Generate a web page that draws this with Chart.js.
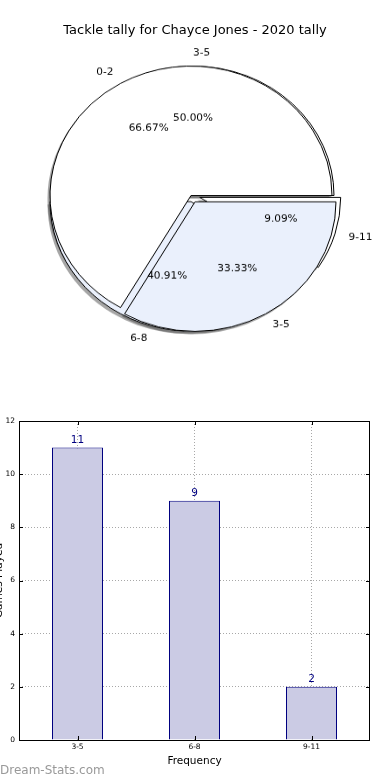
<!DOCTYPE html>
<html>
<head>
<meta charset="utf-8">
<title>Tackle tally for Chayce Jones - 2020 tally</title>
<script src="https://cdn.jsdelivr.net/npm/chart.js@4.4.0/dist/chart.umd.min.js"></script>
<style>
  body { margin: 0; background: #fff; font-family: 'DejaVu Sans', sans-serif; }
  #page { position: relative; width: 390px; height: 780px; overflow: hidden; background: #fff; }
  #title { position: absolute; top: 22px; left: 0; width: 390px; line-height: 16px; text-align: center; font-size: 13px; color: #000; }
  #pie-wrap { position: absolute; top: 0; left: 0; width: 390px; height: 391px; transform: scaleY(0.918); transform-origin: 191px 195.5px; }
  #pie-wrap canvas { position: absolute; top: 0; left: 0; }
  #bar-wrap { position: absolute; top: 410px; left: 0; width: 390px; height: 370px; }
  #watermark { position: absolute; left: 0; top: 762px; font-size: 12px; line-height: 16px; color: #999; }
</style>
</head>
<body>
<div id="page">
  <div id="pie-wrap">
    <canvas id="pie-back" width="390" height="391"></canvas>
    <canvas id="pie-front" width="390" height="391"></canvas>
  </div>
  <div id="title">Tackle tally for Chayce Jones - 2020 tally</div>
  <div id="bar-wrap">
    <canvas id="bar" width="390" height="370"></canvas>
  </div>
  <div id="watermark">Dream-Stats.com</div>
</div>
<script>
// Data
const pieALabels = ['0-2', '3-5'];
const pieAValues = [66.67, 33.33];
const pieBLabels = ['3-5', '6-8', '9-11'];
const pieBValues = [11, 9, 2];
const barLabels = ['3-5', '6-8', '9-11'];
const barValues = [11, 9, 2];
const yTicks = [0, 2, 4, 6, 8, 10, 12];

// Styles
const pieAColors = ['#ffffff', '#eaf0fc'];
const pieAExplode = [0, 8];
const pieBColors = ['#ffffff', '#eaf0fc', '#ffffff'];
const pieBExplode = [0, 7, 7];
const FONT = '"DejaVu Sans", sans-serif';

Chart.defaults.font.family = FONT;
Chart.defaults.color = '#000';

let backPie = null;

function midAngle(arc) {
  return (arc.startAngle + arc.endAngle) / 2;
}

// Push exploded slices out from the centre (keeps their radius)
const explodePlugin = {
  id: 'explode',
  afterUpdate(chart) {
    const ds = chart.data.datasets[0];
    chart.getDatasetMeta(0).data.forEach((arc, i) => {
      const mid = midAngle(arc);
      arc.x += Math.cos(mid) * ds.explode[i];
      arc.y += Math.sin(mid) * ds.explode[i];
    });
  }
};

// Percent and category labels like matplotlib autopct, for both pies, on top
function drawPieLabels(ctx, chart) {
  const meta = chart.getDatasetMeta(0);
  const values = chart.data.datasets[0].data;
  const total = values.reduce((a, b) => a + b, 0);
  meta.data.forEach((arc, i) => {
    const mid = midAngle(arc);
    const r = arc.outerRadius;
    const cos = Math.cos(mid), sin = Math.sin(mid);
    ctx.textAlign = 'center';
    ctx.fillText((values[i] / total * 100).toFixed(2) + '%', arc.x + cos * r * 0.6, arc.y + sin * r * 0.6);
    ctx.textAlign = cos >= -1e-6 ? 'left' : 'right';
    ctx.fillText(chart.data.labels[i], arc.x + cos * r * 1.1, arc.y + sin * r * 1.1);
  });
}

const pieLabelPlugin = {
  id: 'pieLabels',
  afterDatasetsDraw(chart) {
    const ctx = chart.ctx;
    ctx.save();
    ctx.font = '10.5px ' + FONT;
    ctx.fillStyle = '#000';
    ctx.textBaseline = 'middle';
    if (backPie) drawPieLabels(ctx, backPie);
    drawPieLabels(ctx, chart);
    ctx.restore();
  }
};

function makePie(id, labels, values, colors, explode, padRight, plugins) {
  // reverse so slices run counter-clockwise from 3 o'clock
  return new Chart(document.getElementById(id), {
    type: 'pie',
    data: {
      labels: labels.slice().reverse(),
      datasets: [{
        data: values.slice().reverse(),
        backgroundColor: colors.slice().reverse(),
        explode: explode.slice().reverse(),
        borderColor: '#000',
        borderWidth: 1,
        hoverOffset: 0
      }]
    },
    options: {
      responsive: false,
      animation: false,
      events: [],
      rotation: 90,
      radius: 141,
      layout: { padding: { right: padRight } },
      plugins: { legend: { display: false }, tooltip: { enabled: false } }
    },
    plugins: [explodePlugin].concat(plugins)
  });
}

const frontPie = makePie('pie-front', pieALabels, pieAValues, pieAColors, pieAExplode, 8, [pieLabelPlugin]);

// Shadows of both pies sit under every wedge
const shadowPlugin = {
  id: 'pieShadow',
  beforeDatasetsDraw(chart) {
    const ctx = chart.ctx;
    const arcs = frontPie.getDatasetMeta(0).data.concat(chart.getDatasetMeta(0).data);
    ctx.save();
    ctx.fillStyle = 'rgba(77,77,77,0.5)';
    arcs.forEach(arc => {
      ctx.beginPath();
      ctx.moveTo(arc.x - 2.5, arc.y + 3);
      ctx.arc(arc.x - 2.5, arc.y + 3, arc.outerRadius, arc.startAngle, arc.endAngle);
      ctx.closePath();
      ctx.fill();
    });
    ctx.restore();
  }
};

backPie = makePie('pie-back', pieBLabels, pieBValues, pieBColors, pieBExplode, 4, [shadowPlugin]);
frontPie.draw();

// Box frame, inward ticks and bar value labels
const barDecorPlugin = {
  id: 'barDecor',
  afterDatasetsDraw(chart) {
    const ctx = chart.ctx;
    const a = chart.chartArea;
    const x = chart.scales.x, y = chart.scales.y;
    ctx.save();
    ctx.strokeStyle = '#000';
    ctx.lineWidth = 1;
    ctx.strokeRect(Math.round(a.left) + 0.5, Math.round(a.top) + 0.5, Math.round(a.right - a.left) - 1, Math.round(a.bottom - a.top));
    ctx.beginPath();
    yTicks.forEach(v => {
      const py = Math.round(y.getPixelForValue(v)) + 0.5;
      ctx.moveTo(a.left, py); ctx.lineTo(a.left + 4, py);
      ctx.moveTo(a.right, py); ctx.lineTo(a.right - 4, py);
    });
    barLabels.forEach((l, i) => {
      const px = Math.round(x.getPixelForValue(i)) + 0.5;
      ctx.moveTo(px, a.bottom); ctx.lineTo(px, a.bottom - 4);
      ctx.moveTo(px, a.top); ctx.lineTo(px, a.top + 4);
    });
    ctx.stroke();

    ctx.font = '10.5px ' + FONT;
    ctx.fillStyle = '#000080';
    ctx.textAlign = 'center';
    ctx.textBaseline = 'middle';
    chart.getDatasetMeta(0).data.forEach((bar, i) => {
      ctx.fillText(String(barValues[i]), bar.x, bar.y - 7.5);
    });

    // y title, mostly cut off by the left edge
    ctx.fillStyle = '#000';
    ctx.translate(1.5, (a.top + a.bottom) / 2);
    ctx.rotate(-Math.PI / 2);
    ctx.textBaseline = 'alphabetic';
    ctx.fillText('Games Played', 0, 0);
    ctx.restore();
  }
};

new Chart(document.getElementById('bar'), {
  type: 'bar',
  data: {
    labels: barLabels,
    datasets: [{
      data: barValues,
      backgroundColor: '#cbcbe4',
      borderColor: '#000080',
      borderWidth: 1,
      barPercentage: 51 / 117,
      categoryPercentage: 1
    }]
  },
  options: {
    responsive: false,
    animation: false,
    events: [],
    layout: { padding: { top: 11, right: 20, left: 0, bottom: 0 } },
    plugins: { legend: { display: false }, tooltip: { enabled: false } },
    scales: {
      x: {
        grid: { color: '#a8a8a8', offset: false, drawTicks: false },
        border: { display: false, dash: [1, 2] },
        ticks: { font: { size: 7.5 }, color: '#000', padding: 3 },
        title: { display: true, text: 'Frequency', font: { size: 10.5 }, color: '#000', padding: { top: 0, bottom: 12.7 } },
        afterFit: s => { s.height = 40; }
      },
      y: {
        min: 0,
        max: 12,
        grid: { color: '#a8a8a8', drawTicks: false },
        border: { display: false, dash: [1, 2] },
        ticks: { font: { size: 7.5 }, color: '#000', padding: 4 },
        afterBuildTicks: s => { s.ticks = yTicks.map(v => ({ value: v })); },
        afterFit: s => { s.width = 19; }
      }
    }
  },
  plugins: [barDecorPlugin]
});
</script>
</body>
</html>
